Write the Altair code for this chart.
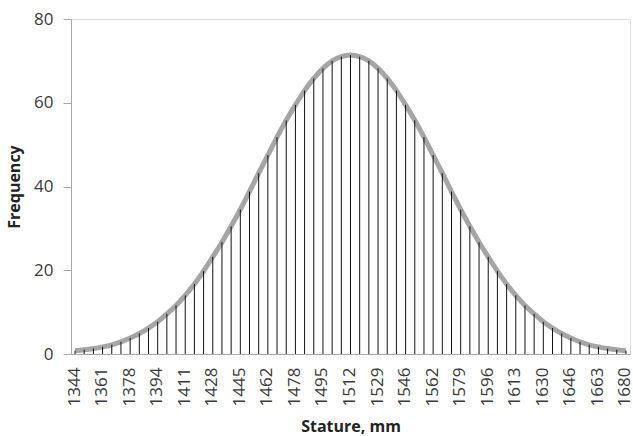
import altair as alt
import pandas as pd

stature = [1344, 1350, 1355, 1361, 1366, 1372, 1378, 1383, 1389, 1394,
           1400, 1406, 1411, 1417, 1422, 1428, 1434, 1439, 1445, 1450,
           1456, 1462, 1467, 1473, 1478, 1484, 1490, 1495, 1501, 1506,
           1512, 1518, 1523, 1529, 1534, 1540, 1546, 1551, 1557, 1562,
           1568, 1574, 1579, 1585, 1590, 1596, 1602, 1607, 1613, 1618,
           1624, 1630, 1635, 1641, 1646, 1652, 1658, 1663, 1669, 1674,
           1680]

frequency = [0.8, 1.0, 1.3, 1.7, 2.2, 2.9, 3.8, 4.9, 6.2, 7.7,
             9.6, 11.6, 14.0, 16.7, 19.8, 23.2, 26.7, 30.5, 34.5, 38.8,
             43.2, 47.5, 51.8, 55.8, 59.5, 62.9, 65.8, 68.2, 70.0, 71.0,
             71.4, 71.0, 70.0, 68.2, 65.8, 62.9, 59.5, 55.8, 51.8, 47.5,
             43.2, 38.8, 34.5, 30.5, 26.7, 23.2, 19.8, 16.7, 14.0, 11.6,
             9.6, 7.7, 6.2, 4.9, 3.8, 2.9, 2.2, 1.7, 1.3, 1.0,
             0.8]

tick_labels = ["1344", "1361", "1378", "1394", "1411", "1428", "1445",
               "1462", "1478", "1495", "1512", "1529", "1546", "1562",
               "1579", "1596", "1613", "1630", "1646", "1663", "1680"]

y_ticks = [0, 20, 40, 60, 80]

df = pd.DataFrame({"stature": [str(s) for s in stature], "freq": frequency})

FONT = "Open Sans"

x_enc = alt.X(
    "stature:O",
    sort=None,
    scale=alt.Scale(type="point", padding=0.44),
    axis=alt.Axis(
        title="Stature, mm",
        values=tick_labels,
        labelAngle=-90,
        labelAlign="right",
        labelBaseline="middle",
        labelPadding=13,
        labelOffset=-1,
        ticks=False,
        domainColor="#a8a8a8",
        labelFont=FONT,
        labelFontSize=17,
        labelColor="#3a3a3a",
        titleFont=FONT,
        titleFontSize=16,
        titleFontWeight="bold",
        titleColor="#222222",
        titlePadding=13,
    ),
)

y_enc = alt.Y(
    "freq:Q",
    scale=alt.Scale(domain=[0, 80]),
    axis=alt.Axis(
        title="Frequency",
        values=y_ticks,
        grid=False,
        tickSize=8,
        tickColor="#a8a8a8",
        domainColor="#a8a8a8",
        labelPadding=10,
        labelFont=FONT,
        labelFontSize=17,
        labelColor="#3a3a3a",
        titleFont=FONT,
        titleFontSize=16,
        titleFontWeight="bold",
        titleColor="#222222",
        titlePadding=11,
    ),
)

line = alt.Chart(df).mark_line(
    color="#a5a5a5", strokeWidth=5, interpolate="monotone"
).encode(x=x_enc, y=y_enc)

rules = alt.Chart(df).mark_rule(color="#111111", strokeWidth=1).encode(
    x=x_enc, y=y_enc, y2=alt.datum(0)
)

chart = (
    alt.layer(line, rules)
    .properties(
        width=559,
        height=335,
        autosize=alt.AutoSizeParams(type="none"),
        padding={"left": 71, "top": 19, "right": 3, "bottom": 82},
    )
    .configure_view(stroke=None)
    .configure(background="white")
)

chart.save("out.html", embed_options={"renderer": "svg", "actions": False})
